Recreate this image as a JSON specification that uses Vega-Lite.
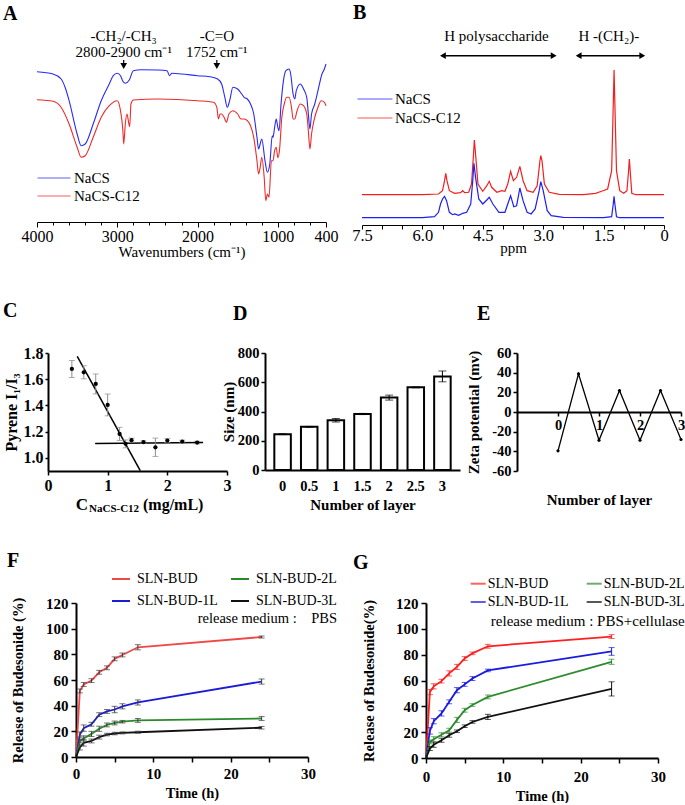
{
"$schema": "https://vega.github.io/schema/vega-lite/v6.json",
"background": "white",
"padding": {"left": 0, "top": 2, "right": 0, "bottom": 0},
"spacing": 0,
"resolve": {"scale": {"color": "independent", "shape": "independent"}, "legend": {"color": "independent", "shape": "independent"}},
"datasets": {
"ftir": [
{"sample":"NaCS","wn":4000,"t":150.3},{"sample":"NaCS","wn":3800,"t":148},{"sample":"NaCS","wn":3700,"t":143},{"sample":"NaCS","wn":3650,"t":134.7},{"sample":"NaCS","wn":3600,"t":121.3},{"sample":"NaCS","wn":3500,"t":88},{"sample":"NaCS","wn":3450,"t":76.3},{"sample":"NaCS","wn":3400,"t":78},{"sample":"NaCS","wn":3300,"t":98},{"sample":"NaCS","wn":3200,"t":121.3},{"sample":"NaCS","wn":3100,"t":138},{"sample":"NaCS","wn":3050,"t":146.3},{"sample":"NaCS","wn":3000,"t":148.7},{"sample":"NaCS","wn":2960,"t":146.3},{"sample":"NaCS","wn":2930,"t":140.7},{"sample":"NaCS","wn":2900,"t":138.7},{"sample":"NaCS","wn":2850,"t":142},{"sample":"NaCS","wn":2800,"t":151.3},{"sample":"NaCS","wn":2700,"t":152.3},{"sample":"NaCS","wn":2500,"t":152},{"sample":"NaCS","wn":2380,"t":151.3},{"sample":"NaCS","wn":2350,"t":146.3},{"sample":"NaCS","wn":2320,"t":148.7},{"sample":"NaCS","wn":2200,"t":148},{"sample":"NaCS","wn":2000,"t":146.3},{"sample":"NaCS","wn":1850,"t":145.3},{"sample":"NaCS","wn":1750,"t":143},{"sample":"NaCS","wn":1700,"t":138},{"sample":"NaCS","wn":1660,"t":124.7},{"sample":"NaCS","wn":1630,"t":114.7},{"sample":"NaCS","wn":1600,"t":121.3},{"sample":"NaCS","wn":1560,"t":134.7},{"sample":"NaCS","wn":1500,"t":133},{"sample":"NaCS","wn":1450,"t":128},{"sample":"NaCS","wn":1420,"t":124.7},{"sample":"NaCS","wn":1380,"t":123},{"sample":"NaCS","wn":1340,"t":118},{"sample":"NaCS","wn":1300,"t":108},{"sample":"NaCS","wn":1260,"t":84.7},{"sample":"NaCS","wn":1240,"t":73},{"sample":"NaCS","wn":1220,"t":78},{"sample":"NaCS","wn":1200,"t":83},{"sample":"NaCS","wn":1160,"t":61.3},{"sample":"NaCS","wn":1130,"t":49.7},{"sample":"NaCS","wn":1100,"t":58},{"sample":"NaCS","wn":1070,"t":86.3},{"sample":"NaCS","wn":1060,"t":84.7},{"sample":"NaCS","wn":1040,"t":94.7},{"sample":"NaCS","wn":1020,"t":103},{"sample":"NaCS","wn":1000,"t":94.7},{"sample":"NaCS","wn":985,"t":91.3},{"sample":"NaCS","wn":960,"t":118},{"sample":"NaCS","wn":930,"t":141.3},{"sample":"NaCS","wn":900,"t":151.3},{"sample":"NaCS","wn":860,"t":153},{"sample":"NaCS","wn":840,"t":148},{"sample":"NaCS","wn":810,"t":128},{"sample":"NaCS","wn":790,"t":123},{"sample":"NaCS","wn":770,"t":131.3},{"sample":"NaCS","wn":720,"t":138},{"sample":"NaCS","wn":680,"t":133},{"sample":"NaCS","wn":640,"t":124.7},{"sample":"NaCS","wn":620,"t":108},{"sample":"NaCS","wn":600,"t":93},{"sample":"NaCS","wn":580,"t":108},{"sample":"NaCS","wn":540,"t":118},{"sample":"NaCS","wn":500,"t":131.3},{"sample":"NaCS","wn":450,"t":148},{"sample":"NaCS","wn":420,"t":153},{"sample":"NaCS","wn":400,"t":158},
{"sample":"NaCS-C12","wn":4000,"t":122.3},{"sample":"NaCS-C12","wn":3800,"t":120.7},{"sample":"NaCS-C12","wn":3700,"t":114.7},{"sample":"NaCS-C12","wn":3600,"t":98},{"sample":"NaCS-C12","wn":3500,"t":74.7},{"sample":"NaCS-C12","wn":3450,"t":64.7},{"sample":"NaCS-C12","wn":3400,"t":66.3},{"sample":"NaCS-C12","wn":3300,"t":84.7},{"sample":"NaCS-C12","wn":3200,"t":104.7},{"sample":"NaCS-C12","wn":3100,"t":116.3},{"sample":"NaCS-C12","wn":3000,"t":121.3},{"sample":"NaCS-C12","wn":2960,"t":111.3},{"sample":"NaCS-C12","wn":2930,"t":91.3},{"sample":"NaCS-C12","wn":2920,"t":78},{"sample":"NaCS-C12","wn":2900,"t":98},{"sample":"NaCS-C12","wn":2880,"t":108},{"sample":"NaCS-C12","wn":2855,"t":98},{"sample":"NaCS-C12","wn":2845,"t":95.3},{"sample":"NaCS-C12","wn":2830,"t":118},{"sample":"NaCS-C12","wn":2800,"t":122},{"sample":"NaCS-C12","wn":2500,"t":123},{"sample":"NaCS-C12","wn":2000,"t":121.3},{"sample":"NaCS-C12","wn":1800,"t":119.7},{"sample":"NaCS-C12","wn":1760,"t":114.7},{"sample":"NaCS-C12","wn":1740,"t":103},{"sample":"NaCS-C12","wn":1720,"t":108},{"sample":"NaCS-C12","wn":1700,"t":108},{"sample":"NaCS-C12","wn":1670,"t":104.7},{"sample":"NaCS-C12","wn":1640,"t":99.7},{"sample":"NaCS-C12","wn":1610,"t":108},{"sample":"NaCS-C12","wn":1560,"t":111.3},{"sample":"NaCS-C12","wn":1500,"t":108},{"sample":"NaCS-C12","wn":1460,"t":103},{"sample":"NaCS-C12","wn":1420,"t":103},{"sample":"NaCS-C12","wn":1380,"t":101.3},{"sample":"NaCS-C12","wn":1340,"t":96.3},{"sample":"NaCS-C12","wn":1300,"t":84.7},{"sample":"NaCS-C12","wn":1260,"t":61.3},{"sample":"NaCS-C12","wn":1240,"t":48},{"sample":"NaCS-C12","wn":1220,"t":54.7},{"sample":"NaCS-C12","wn":1200,"t":64.7},{"sample":"NaCS-C12","wn":1170,"t":44.7},{"sample":"NaCS-C12","wn":1150,"t":21.3},{"sample":"NaCS-C12","wn":1130,"t":28},{"sample":"NaCS-C12","wn":1110,"t":24.7},{"sample":"NaCS-C12","wn":1080,"t":61.3},{"sample":"NaCS-C12","wn":1060,"t":61.3},{"sample":"NaCS-C12","wn":1040,"t":71.3},{"sample":"NaCS-C12","wn":1020,"t":74.7},{"sample":"NaCS-C12","wn":1000,"t":64.3},{"sample":"NaCS-C12","wn":980,"t":71.3},{"sample":"NaCS-C12","wn":950,"t":104.7},{"sample":"NaCS-C12","wn":920,"t":118},{"sample":"NaCS-C12","wn":890,"t":124.7},{"sample":"NaCS-C12","wn":860,"t":124.7},{"sample":"NaCS-C12","wn":830,"t":114.7},{"sample":"NaCS-C12","wn":810,"t":103},{"sample":"NaCS-C12","wn":790,"t":103},{"sample":"NaCS-C12","wn":760,"t":111.3},{"sample":"NaCS-C12","wn":720,"t":118},{"sample":"NaCS-C12","wn":680,"t":116.3},{"sample":"NaCS-C12","wn":640,"t":108},{"sample":"NaCS-C12","wn":620,"t":91.3},{"sample":"NaCS-C12","wn":600,"t":73},{"sample":"NaCS-C12","wn":580,"t":88},{"sample":"NaCS-C12","wn":550,"t":101.3},{"sample":"NaCS-C12","wn":500,"t":114.7},{"sample":"NaCS-C12","wn":460,"t":121.3},{"sample":"NaCS-C12","wn":420,"t":119.7},{"sample":"NaCS-C12","wn":400,"t":116.3}
],
"ftirAnno": [
{"wn": 2920, "label": ["-CH₂/-CH₃", "2800-2900 cm⁻¹"]},
{"wn": 1760, "label": ["-C=O", "1752 cm⁻¹"]}
],
"nmr": [
{"sample":"NaCS-C12","ppm":7.5,"i":30.3},{"sample":"NaCS-C12","ppm":6.0,"i":30.3},{"sample":"NaCS-C12","ppm":5.6,"i":31},{"sample":"NaCS-C12","ppm":5.5,"i":34.3},{"sample":"NaCS-C12","ppm":5.45,"i":44.3},{"sample":"NaCS-C12","ppm":5.42,"i":51.7},{"sample":"NaCS-C12","ppm":5.39,"i":44.3},{"sample":"NaCS-C12","ppm":5.33,"i":34.3},{"sample":"NaCS-C12","ppm":5.2,"i":31.7},{"sample":"NaCS-C12","ppm":5.05,"i":32.3},{"sample":"NaCS-C12","ppm":5.0,"i":34.3},{"sample":"NaCS-C12","ppm":4.95,"i":32.3},{"sample":"NaCS-C12","ppm":4.85,"i":32.7},{"sample":"NaCS-C12","ppm":4.78,"i":41},{"sample":"NaCS-C12","ppm":4.73,"i":71},{"sample":"NaCS-C12","ppm":4.71,"i":85},{"sample":"NaCS-C12","ppm":4.68,"i":71},{"sample":"NaCS-C12","ppm":4.62,"i":41},{"sample":"NaCS-C12","ppm":4.5,"i":33.7},{"sample":"NaCS-C12","ppm":4.4,"i":39.3},{"sample":"NaCS-C12","ppm":4.34,"i":43.7},{"sample":"NaCS-C12","ppm":4.28,"i":37.7},{"sample":"NaCS-C12","ppm":4.15,"i":32.7},{"sample":"NaCS-C12","ppm":4.03,"i":34.3},{"sample":"NaCS-C12","ppm":3.95,"i":33.7},{"sample":"NaCS-C12","ppm":3.88,"i":41},{"sample":"NaCS-C12","ppm":3.81,"i":53.7},{"sample":"NaCS-C12","ppm":3.74,"i":44.3},{"sample":"NaCS-C12","ppm":3.66,"i":47.7},{"sample":"NaCS-C12","ppm":3.58,"i":58.7},{"sample":"NaCS-C12","ppm":3.5,"i":44.3},{"sample":"NaCS-C12","ppm":3.4,"i":34.3},{"sample":"NaCS-C12","ppm":3.25,"i":32.7},{"sample":"NaCS-C12","ppm":3.15,"i":39.3},{"sample":"NaCS-C12","ppm":3.08,"i":64.3},{"sample":"NaCS-C12","ppm":3.06,"i":69.3},{"sample":"NaCS-C12","ppm":3.03,"i":64.3},{"sample":"NaCS-C12","ppm":2.97,"i":41},{"sample":"NaCS-C12","ppm":2.85,"i":32.7},{"sample":"NaCS-C12","ppm":2.6,"i":30.7},{"sample":"NaCS-C12","ppm":2.0,"i":30.3},{"sample":"NaCS-C12","ppm":1.7,"i":31.7},{"sample":"NaCS-C12","ppm":1.55,"i":33.7},{"sample":"NaCS-C12","ppm":1.4,"i":36},{"sample":"NaCS-C12","ppm":1.3,"i":54.3},{"sample":"NaCS-C12","ppm":1.26,"i":121},{"sample":"NaCS-C12","ppm":1.24,"i":155},{"sample":"NaCS-C12","ppm":1.22,"i":121},{"sample":"NaCS-C12","ppm":1.18,"i":54.3},{"sample":"NaCS-C12","ppm":1.1,"i":34.3},{"sample":"NaCS-C12","ppm":1.0,"i":31.7},{"sample":"NaCS-C12","ppm":0.92,"i":34.3},{"sample":"NaCS-C12","ppm":0.88,"i":54.3},{"sample":"NaCS-C12","ppm":0.86,"i":66},{"sample":"NaCS-C12","ppm":0.84,"i":54.3},{"sample":"NaCS-C12","ppm":0.8,"i":31.7},{"sample":"NaCS-C12","ppm":0.7,"i":30.3},{"sample":"NaCS-C12","ppm":0,"i":30.3},
{"sample":"NaCS","ppm":7.5,"i":7.3},{"sample":"NaCS","ppm":6.0,"i":7.3},{"sample":"NaCS","ppm":5.7,"i":8.3},{"sample":"NaCS","ppm":5.6,"i":12.7},{"sample":"NaCS","ppm":5.55,"i":21},{"sample":"NaCS","ppm":5.5,"i":26},{"sample":"NaCS","ppm":5.45,"i":28.7},{"sample":"NaCS","ppm":5.4,"i":24.3},{"sample":"NaCS","ppm":5.33,"i":12.7},{"sample":"NaCS","ppm":5.25,"i":10.3},{"sample":"NaCS","ppm":5.2,"i":11},{"sample":"NaCS","ppm":5.1,"i":9.7},{"sample":"NaCS","ppm":5.0,"i":11.7},{"sample":"NaCS","ppm":4.9,"i":12.7},{"sample":"NaCS","ppm":4.8,"i":21},{"sample":"NaCS","ppm":4.75,"i":44.3},{"sample":"NaCS","ppm":4.72,"i":61.7},{"sample":"NaCS","ppm":4.68,"i":47.7},{"sample":"NaCS","ppm":4.6,"i":26},{"sample":"NaCS","ppm":4.5,"i":21},{"sample":"NaCS","ppm":4.4,"i":25},{"sample":"NaCS","ppm":4.34,"i":27.7},{"sample":"NaCS","ppm":4.25,"i":21},{"sample":"NaCS","ppm":4.1,"i":12.7},{"sample":"NaCS","ppm":3.95,"i":12.7},{"sample":"NaCS","ppm":3.88,"i":21},{"sample":"NaCS","ppm":3.81,"i":29.3},{"sample":"NaCS","ppm":3.73,"i":18.3},{"sample":"NaCS","ppm":3.66,"i":19.3},{"sample":"NaCS","ppm":3.58,"i":37},{"sample":"NaCS","ppm":3.5,"i":24.3},{"sample":"NaCS","ppm":3.4,"i":12.7},{"sample":"NaCS","ppm":3.3,"i":11},{"sample":"NaCS","ppm":3.2,"i":16},{"sample":"NaCS","ppm":3.1,"i":34.3},{"sample":"NaCS","ppm":3.06,"i":43.3},{"sample":"NaCS","ppm":3.0,"i":34.3},{"sample":"NaCS","ppm":2.9,"i":14.3},{"sample":"NaCS","ppm":2.8,"i":9.3},{"sample":"NaCS","ppm":2.5,"i":7.7},{"sample":"NaCS","ppm":1.5,"i":7.3},{"sample":"NaCS","ppm":1.3,"i":8.3},{"sample":"NaCS","ppm":1.26,"i":21},{"sample":"NaCS","ppm":1.24,"i":28.7},{"sample":"NaCS","ppm":1.22,"i":21},{"sample":"NaCS","ppm":1.18,"i":8.3},{"sample":"NaCS","ppm":1.1,"i":7.3},{"sample":"NaCS","ppm":0,"i":7.3}
],
"nmrArrows": [
{"from": 5.49, "to": 2.74, "mid": 4.16, "label": "H polysaccharide"},
{"from": 2.12, "to": 0.54, "mid": 1.37, "label": "H -(CH₂)-"}
],
"cmc": [
{"c":0.4,"r":1.678,"e":0.065},{"c":0.6,"r":1.653,"e":0.05},{"c":0.8,"r":1.564,"e":0.076},{"c":1.0,"r":1.404,"e":0.083},{"c":1.2,"r":1.183,"e":0.05},{"c":1.3,"r":1.107,"e":0.03},{"c":1.4,"r":1.135,"e":0.015},{"c":1.6,"r":1.12,"e":0.01},{"c":1.8,"r":1.081,"e":0.07},{"c":2.0,"r":1.132,"e":0.015},{"c":2.25,"r":1.125,"e":0.01},{"c":2.5,"r":1.117,"e":0.01}
],
"cmcFit": [
{"fit":"below CMC","c":0.49,"r":1.775},{"fit":"below CMC","c":1.546,"r":0.903},
{"fit":"above CMC","c":0.79,"r":1.11},{"fit":"above CMC","c":2.6,"r":1.117}
],
"sizes": [
{"layer":"0","size":245,"sd":3},{"layer":"0.5","size":295,"sd":3},{"layer":"1","size":340,"sd":12},{"layer":"1.5","size":383,"sd":4},{"layer":"2","size":495,"sd":17},{"layer":"2.5","size":565,"sd":3},{"layer":"3","size":640,"sd":37}
],
"zeta": [
{"n":0,"z":-39.5},{"n":0.5,"z":38.8},{"n":1,"z":-28.7},{"n":1.5,"z":21.9},{"n":2,"z":-28.7},{"n":2.5,"z":21.9},{"n":3,"z":-28}
],
"relPBS": [
{"s":"SLN-BUD","t":0,"r":0,"e":0},{"s":"SLN-BUD","t":0.5,"r":51.5,"e":1.5},{"s":"SLN-BUD","t":1,"r":56.5,"e":1.5},{"s":"SLN-BUD","t":2,"r":59.5,"e":1.5},{"s":"SLN-BUD","t":3,"r":66,"e":1.5},{"s":"SLN-BUD","t":4,"r":69.5,"e":1.5},{"s":"SLN-BUD","t":5,"r":76.5,"e":1.5},{"s":"SLN-BUD","t":6,"r":79.5,"e":1.5},{"s":"SLN-BUD","t":8,"r":85.5,"e":2},{"s":"SLN-BUD","t":24,"r":93.5,"e":0.8},
{"s":"SLN-BUD-1L","t":0,"r":0,"e":0},{"s":"SLN-BUD-1L","t":0.5,"r":17.5,"e":2},{"s":"SLN-BUD-1L","t":1,"r":22.5,"e":2.5},{"s":"SLN-BUD-1L","t":2,"r":25.5,"e":1.5},{"s":"SLN-BUD-1L","t":3,"r":33,"e":1.5},{"s":"SLN-BUD-1L","t":4,"r":35.5,"e":1.5},{"s":"SLN-BUD-1L","t":5,"r":37,"e":2.5},{"s":"SLN-BUD-1L","t":6,"r":39.5,"e":2},{"s":"SLN-BUD-1L","t":8,"r":42.5,"e":2},{"s":"SLN-BUD-1L","t":24,"r":58.8,"e":2},
{"s":"SLN-BUD-2L","t":0,"r":0,"e":0},{"s":"SLN-BUD-2L","t":0.5,"r":12.5,"e":1.5},{"s":"SLN-BUD-2L","t":1,"r":14.5,"e":2},{"s":"SLN-BUD-2L","t":2,"r":18,"e":2},{"s":"SLN-BUD-2L","t":3,"r":22,"e":2},{"s":"SLN-BUD-2L","t":4,"r":25,"e":1.5},{"s":"SLN-BUD-2L","t":5,"r":26.5,"e":1.5},{"s":"SLN-BUD-2L","t":6,"r":27.5,"e":1},{"s":"SLN-BUD-2L","t":8,"r":28.5,"e":1.5},{"s":"SLN-BUD-2L","t":24,"r":30,"e":1.5},
{"s":"SLN-BUD-3L","t":0,"r":0,"e":0},{"s":"SLN-BUD-3L","t":0.5,"r":7.5,"e":2},{"s":"SLN-BUD-3L","t":1,"r":11,"e":2.5},{"s":"SLN-BUD-3L","t":2,"r":12.5,"e":1.5},{"s":"SLN-BUD-3L","t":3,"r":15.5,"e":1.5},{"s":"SLN-BUD-3L","t":4,"r":17.5,"e":1},{"s":"SLN-BUD-3L","t":5,"r":18.3,"e":1},{"s":"SLN-BUD-3L","t":6,"r":18.8,"e":0.8},{"s":"SLN-BUD-3L","t":8,"r":19.3,"e":0.8},{"s":"SLN-BUD-3L","t":24,"r":22.8,"e":1}
],
"relCell": [
{"s":"SLN-BUD","t":0,"r":0,"e":0},{"s":"SLN-BUD","t":0.5,"r":51,"e":2},{"s":"SLN-BUD","t":1,"r":55.5,"e":2},{"s":"SLN-BUD","t":2,"r":59.5,"e":1.5},{"s":"SLN-BUD","t":3,"r":65.5,"e":2},{"s":"SLN-BUD","t":4,"r":70.5,"e":2},{"s":"SLN-BUD","t":5,"r":77,"e":1.5},{"s":"SLN-BUD","t":6,"r":81,"e":1},{"s":"SLN-BUD","t":8,"r":86.5,"e":1.5},{"s":"SLN-BUD","t":24,"r":94,"e":1.5},
{"s":"SLN-BUD-1L","t":0,"r":0,"e":0},{"s":"SLN-BUD-1L","t":0.5,"r":21,"e":2.5},{"s":"SLN-BUD-1L","t":1,"r":28.5,"e":2},{"s":"SLN-BUD-1L","t":2,"r":34.5,"e":2},{"s":"SLN-BUD-1L","t":3,"r":43.5,"e":1.5},{"s":"SLN-BUD-1L","t":4,"r":52.5,"e":2},{"s":"SLN-BUD-1L","t":5,"r":57,"e":1.5},{"s":"SLN-BUD-1L","t":6,"r":61.5,"e":1.5},{"s":"SLN-BUD-1L","t":8,"r":67.8,"e":1},{"s":"SLN-BUD-1L","t":24,"r":82.5,"e":3},
{"s":"SLN-BUD-2L","t":0,"r":0,"e":0},{"s":"SLN-BUD-2L","t":0.5,"r":12.5,"e":1.5},{"s":"SLN-BUD-2L","t":1,"r":14.5,"e":2},{"s":"SLN-BUD-2L","t":2,"r":18,"e":1.5},{"s":"SLN-BUD-2L","t":3,"r":21.5,"e":1.5},{"s":"SLN-BUD-2L","t":4,"r":29.5,"e":2},{"s":"SLN-BUD-2L","t":5,"r":37,"e":1.5},{"s":"SLN-BUD-2L","t":6,"r":41,"e":1},{"s":"SLN-BUD-2L","t":8,"r":47.3,"e":1.5},{"s":"SLN-BUD-2L","t":24,"r":74.5,"e":2},
{"s":"SLN-BUD-3L","t":0,"r":0,"e":0},{"s":"SLN-BUD-3L","t":0.5,"r":7.3,"e":1.5},{"s":"SLN-BUD-3L","t":1,"r":10.3,"e":2},{"s":"SLN-BUD-3L","t":2,"r":13.7,"e":1.5},{"s":"SLN-BUD-3L","t":3,"r":17.6,"e":1.5},{"s":"SLN-BUD-3L","t":4,"r":20.7,"e":1},{"s":"SLN-BUD-3L","t":5,"r":24.6,"e":1},{"s":"SLN-BUD-3L","t":6,"r":27.9,"e":1},{"s":"SLN-BUD-3L","t":8,"r":31.8,"e":2},{"s":"SLN-BUD-3L","t":24,"r":53.5,"e":5.5}
]
},
"vconcat": [
{
 "spacing": 0, "bounds": "flush",
 "resolve": {"scale": {"color": "independent", "shape": "independent"}, "legend": {"color": "independent", "shape": "independent"}},
 "hconcat": [
  {"width": 37, "height": 272, "data": {"values": [{"k": 0}]}, "mark": {"type": "point", "opacity": 0}, "encoding": {}},
  {
   "width": 289, "height": 193,
   "title": {"text": "A", "dx": -34, "dy": -1},
   "layer": [
    {"data": {"name": "ftir"}, "mark": {"type": "line", "strokeWidth": 1.1, "interpolate": "monotone"},
     "encoding": {
      "x": {"field": "wn", "type": "quantitative", "title": "Wavenumbers (cm⁻¹)", "scale": {"domain": [400, 4000], "reverse": true, "nice": false, "zero": false},
            "axis": {"values": [4000,3800,3600,3400,3200,3000,2800,2600,2400,2200,2000,1800,1600,1400,1200,1000,800,600,400], "labelExpr": "datum.value % 1000 === 0 || datum.value === 400 ? datum.value + '' : ''", "tickSize": {"condition": {"test": "datum.value % 1000 === 0 || datum.value === 400", "value": 5}, "value": 3}, "labelFontSize": 16, "titleFontSize": 15, "labelFontWeight": "normal", "titleFontWeight": "normal", "labelPadding": 1, "titlePadding": 0, "domainWidth": 1, "tickWidth": 1, "labelOverlap": false, "labelFlush": false}},
      "y": {"field": "t", "type": "quantitative", "scale": {"domain": [0, 193], "nice": false, "zero": false}, "axis": null},
      "color": {"field": "sample", "type": "nominal", "scale": {"domain": ["NaCS", "NaCS-C12"], "range": ["#2a2af2", "#ee2a2a"]},
       "legend": {"orient": "none", "legendX": 0, "legendY": 141.5, "title": null, "symbolType": "stroke", "symbolSize": 1089, "symbolStrokeWidth": 1, "symbolOpacity": 0.75, "clipHeight": 15, "rowPadding": 2, "labelFontSize": 15, "labelOffset": 3}}}},
    {"data": {"name": "ftirAnno"}, "mark": {"type": "text", "fontSize": 15, "baseline": "alphabetic", "lineHeight": 16},
     "encoding": {
      "x": {"field": "wn", "type": "quantitative", "title": "Wavenumbers (cm⁻¹)", "scale": {"domain": [400, 4000], "reverse": true, "nice": false, "zero": false},
            "axis": {"values": [4000,3800,3600,3400,3200,3000,2800,2600,2400,2200,2000,1800,1600,1400,1200,1000,800,600,400], "labelExpr": "datum.value % 1000 === 0 || datum.value === 400 ? datum.value + '' : ''", "tickSize": {"condition": {"test": "datum.value % 1000 === 0 || datum.value === 400", "value": 5}, "value": 3}, "labelFontSize": 16, "titleFontSize": 15, "labelFontWeight": "normal", "titleFontWeight": "normal", "labelPadding": 1, "titlePadding": 0, "domainWidth": 1, "tickWidth": 1, "labelOverlap": false, "labelFlush": false}},
      "y": {"datum": 181, "type": "quantitative", "axis": null}, "text": {"field": "label"}}},
    {"data": {"name": "ftirAnno"}, "mark": {"type": "rule", "color": "black", "strokeWidth": 1.2},
     "encoding": {
      "x": {"field": "wn", "type": "quantitative", "title": "Wavenumbers (cm⁻¹)", "scale": {"domain": [400, 4000], "reverse": true, "nice": false, "zero": false},
            "axis": {"values": [4000,3800,3600,3400,3200,3000,2800,2600,2400,2200,2000,1800,1600,1400,1200,1000,800,600,400], "labelExpr": "datum.value % 1000 === 0 || datum.value === 400 ? datum.value + '' : ''", "tickSize": {"condition": {"test": "datum.value % 1000 === 0 || datum.value === 400", "value": 5}, "value": 3}, "labelFontSize": 16, "titleFontSize": 15, "labelFontWeight": "normal", "titleFontWeight": "normal", "labelPadding": 1, "titlePadding": 0, "domainWidth": 1, "tickWidth": 1, "labelOverlap": false, "labelFlush": false}},
      "y": {"datum": 162, "type": "quantitative", "axis": null}, "y2": {"datum": 157}}},
    {"data": {"name": "ftirAnno"}, "mark": {"type": "point", "shape": "triangle-down", "filled": true, "color": "black", "size": 45, "opacity": 1},
     "encoding": {
      "x": {"field": "wn", "type": "quantitative", "title": "Wavenumbers (cm⁻¹)", "scale": {"domain": [400, 4000], "reverse": true, "nice": false, "zero": false},
            "axis": {"values": [4000,3800,3600,3400,3200,3000,2800,2600,2400,2200,2000,1800,1600,1400,1200,1000,800,600,400], "labelExpr": "datum.value % 1000 === 0 || datum.value === 400 ? datum.value + '' : ''", "tickSize": {"condition": {"test": "datum.value % 1000 === 0 || datum.value === 400", "value": 5}, "value": 3}, "labelFontSize": 16, "titleFontSize": 15, "labelFontWeight": "normal", "titleFontWeight": "normal", "labelPadding": 1, "titlePadding": 0, "domainWidth": 1, "tickWidth": 1, "labelOverlap": false, "labelFlush": false}},
      "y": {"datum": 156, "type": "quantitative", "axis": null}}}
   ]
  },
  {"width": 36, "height": 1, "data": {"values": [{"k": 0}]}, "mark": {"type": "point", "opacity": 0}, "encoding": {}},
  {
   "width": 302, "height": 196,
   "title": {"text": "B", "dx": -9, "dy": -2},
   "layer": [
    {"data": {"name": "nmr"}, "mark": {"type": "line", "strokeWidth": 1.2},
     "encoding": {
      "x": {"field": "ppm", "type": "quantitative", "title": "ppm", "scale": {"domain": [0, 7.5], "reverse": true, "nice": false, "zero": false},
            "axis": {"values": [0,0.5,1,1.5,2,2.5,3,3.5,4,4.5,5,5.5,6,6.5,7,7.5], "labelExpr": "datum.value % 1.5 === 0 ? (datum.value === 0 ? '0' : format(datum.value, '.1f')) : ''", "tickSize": 4, "labelFontSize": 16.5, "titleFontSize": 15, "labelFontWeight": "normal", "titleFontWeight": "normal", "labelPadding": -2, "titlePadding": -3, "domainWidth": 1, "tickWidth": 1, "labelOverlap": false, "labelFlush": false}},
      "y": {"field": "i", "type": "quantitative", "scale": {"domain": [0, 196], "nice": false, "zero": false}, "axis": null},
      "color": {"field": "sample", "type": "nominal", "scale": {"domain": ["NaCS", "NaCS-C12"], "range": ["#1f1ff0", "#f02020"]},
       "legend": {"orient": "none", "legendX": -5, "legendY": 62.5, "title": null, "symbolType": "stroke", "symbolSize": 1225, "symbolStrokeWidth": 1, "symbolOpacity": 0.75, "clipHeight": 15, "rowPadding": 3, "labelFontSize": 15, "labelOffset": 2}}}},
    {"data": {"name": "nmrArrows"}, "mark": {"type": "rule", "color": "black", "strokeWidth": 1.5},
     "encoding": {
      "x": {"field": "from", "type": "quantitative", "title": "ppm", "scale": {"domain": [0, 7.5], "reverse": true, "nice": false, "zero": false},
            "axis": {"values": [0,0.5,1,1.5,2,2.5,3,3.5,4,4.5,5,5.5,6,6.5,7,7.5], "labelExpr": "datum.value % 1.5 === 0 ? (datum.value === 0 ? '0' : format(datum.value, '.1f')) : ''", "tickSize": 4, "labelFontSize": 16.5, "titleFontSize": 15, "labelFontWeight": "normal", "titleFontWeight": "normal", "labelPadding": -2, "titlePadding": -3, "domainWidth": 1, "tickWidth": 1, "labelOverlap": false, "labelFlush": false}},
      "x2": {"field": "to"}, "y": {"datum": 169.3, "type": "quantitative", "axis": null}}},
    {"data": {"name": "nmrArrows"}, "transform": [{"fold": ["from", "to"], "as": ["end", "pos"]}],
     "mark": {"type": "point", "filled": true, "color": "black", "size": 45, "opacity": 1},
     "encoding": {
      "x": {"field": "pos", "type": "quantitative", "title": "ppm", "scale": {"domain": [0, 7.5], "reverse": true, "nice": false, "zero": false},
            "axis": {"values": [0,0.5,1,1.5,2,2.5,3,3.5,4,4.5,5,5.5,6,6.5,7,7.5], "labelExpr": "datum.value % 1.5 === 0 ? (datum.value === 0 ? '0' : format(datum.value, '.1f')) : ''", "tickSize": 4, "labelFontSize": 16.5, "titleFontSize": 15, "labelFontWeight": "normal", "titleFontWeight": "normal", "labelPadding": -2, "titlePadding": -3, "domainWidth": 1, "tickWidth": 1, "labelOverlap": false, "labelFlush": false}},
      "y": {"datum": 169.3, "type": "quantitative", "axis": null},
      "shape": {"field": "end", "type": "nominal", "scale": {"domain": ["from", "to"], "range": ["triangle-left", "triangle-right"]}, "legend": null}}},
    {"data": {"name": "nmrArrows"}, "mark": {"type": "text", "fontSize": 15, "baseline": "middle"},
     "encoding": {
      "x": {"field": "mid", "type": "quantitative", "title": "ppm", "scale": {"domain": [0, 7.5], "reverse": true, "nice": false, "zero": false},
            "axis": {"values": [0,0.5,1,1.5,2,2.5,3,3.5,4,4.5,5,5.5,6,6.5,7,7.5], "labelExpr": "datum.value % 1.5 === 0 ? (datum.value === 0 ? '0' : format(datum.value, '.1f')) : ''", "tickSize": 4, "labelFontSize": 16.5, "titleFontSize": 15, "labelFontWeight": "normal", "titleFontWeight": "normal", "labelPadding": -2, "titlePadding": -3, "domainWidth": 1, "tickWidth": 1, "labelOverlap": false, "labelFlush": false}},
      "y": {"datum": 189, "type": "quantitative", "axis": null}, "text": {"field": "label"}}}
   ]
  }
 ]
},
{
 "spacing": 0, "bounds": "flush",
 "resolve": {"scale": {"color": "independent", "shape": "independent"}, "legend": {"color": "independent", "shape": "independent"}},
 "hconcat": [
  {"width": 48, "height": 197, "data": {"values": [{"k": 0}]}, "mark": {"type": "point", "opacity": 0}, "encoding": {}},
  {
   "width": 179, "height": 118,
   "title": {"text": "C", "dx": -45, "dy": -20},
   "layer": [
    {"data": {"name": "cmcFit"}, "mark": {"type": "line", "color": "black", "strokeWidth": 1.5},
     "encoding": {
      "x": {"field": "c", "type": "quantitative", "title": null, "scale": {"domain": [0, 3], "nice": false, "zero": false}, "axis": {"title": null, "values": [0,1,2,3], "format": "d", "tickSize": 4, "labelPadding": 2, "labelFontSize": 16, "labelOverlap": false, "labelFlush": false}},
      "y": {"field": "r", "type": "quantitative", "title": "Pyrene I₁/I₃", "scale": {"domain": [0.9, 1.8], "nice": false, "zero": false}, "axis": {"title": "Pyrene I₁/I₃", "values": [1.0,1.2,1.4,1.6,1.8], "format": ".1f", "tickSize": 3, "labelPadding": 2, "titlePadding": 4, "labelFontSize": 16, "titleFontSize": 16, "labelOverlap": false}},
      "detail": {"field": "fit"}}},
    {"data": {"name": "cmc"}, "mark": {"type": "errorbar", "ticks": {"size": 6}, "color": "#8c8c8c", "thickness": 1},
     "encoding": {
      "x": {"field": "c", "type": "quantitative", "title": null, "scale": {"domain": [0, 3], "nice": false, "zero": false}, "axis": {"title": null, "values": [0,1,2,3], "format": "d", "tickSize": 4, "labelPadding": 2, "labelFontSize": 16, "labelOverlap": false, "labelFlush": false}},
      "y": {"field": "r", "type": "quantitative", "title": "Pyrene I₁/I₃", "scale": {"domain": [0.9, 1.8], "nice": false, "zero": false}, "axis": {"title": "Pyrene I₁/I₃", "values": [1.0,1.2,1.4,1.6,1.8], "format": ".1f", "tickSize": 3, "labelPadding": 2, "titlePadding": 4, "labelFontSize": 16, "titleFontSize": 16, "labelOverlap": false}},
      "yError": {"field": "e"}}},
    {"data": {"name": "cmc"}, "mark": {"type": "point", "filled": true, "color": "black", "size": 18, "opacity": 1},
     "encoding": {
      "x": {"field": "c", "type": "quantitative", "title": null, "scale": {"domain": [0, 3], "nice": false, "zero": false}, "axis": {"title": null, "values": [0,1,2,3], "format": "d", "tickSize": 4, "labelPadding": 2, "labelFontSize": 16, "labelOverlap": false, "labelFlush": false}},
      "y": {"field": "r", "type": "quantitative", "title": "Pyrene I₁/I₃", "scale": {"domain": [0.9, 1.8], "nice": false, "zero": false}, "axis": {"title": "Pyrene I₁/I₃", "values": [1.0,1.2,1.4,1.6,1.8], "format": ".1f", "tickSize": 3, "labelPadding": 2, "titlePadding": 4, "labelFontSize": 16, "titleFontSize": 16, "labelOverlap": false}}}},
    {"data": {"values": [{"k": 0}]}, "mark": {"type": "text", "align": "right", "baseline": "middle", "fontSize": 17, "fontWeight": "bold"},
     "encoding": {
      "x": {"datum": 0.67, "type": "quantitative", "title": null, "scale": {"domain": [0, 3], "nice": false, "zero": false}, "axis": {"title": null, "values": [0,1,2,3], "format": "d", "tickSize": 4, "labelPadding": 2, "labelFontSize": 16, "labelOverlap": false, "labelFlush": false}},
      "y": {"datum": 0.638, "type": "quantitative", "title": "Pyrene I₁/I₃", "scale": {"domain": [0.9, 1.8], "nice": false, "zero": false}, "axis": {"title": "Pyrene I₁/I₃", "values": [1.0,1.2,1.4,1.6,1.8], "format": ".1f", "tickSize": 3, "labelPadding": 2, "titlePadding": 4, "labelFontSize": 16, "titleFontSize": 16, "labelOverlap": false}},
      "text": {"value": "C"}}},
    {"data": {"values": [{"k": 0}]}, "mark": {"type": "text", "align": "left", "baseline": "middle", "fontSize": 11, "fontWeight": "bold"},
     "encoding": {
      "x": {"datum": 0.687, "type": "quantitative", "title": null, "scale": {"domain": [0, 3], "nice": false, "zero": false}, "axis": {"title": null, "values": [0,1,2,3], "format": "d", "tickSize": 4, "labelPadding": 2, "labelFontSize": 16, "labelOverlap": false, "labelFlush": false}},
      "y": {"datum": 0.607, "type": "quantitative", "title": "Pyrene I₁/I₃", "scale": {"domain": [0.9, 1.8], "nice": false, "zero": false}, "axis": {"title": "Pyrene I₁/I₃", "values": [1.0,1.2,1.4,1.6,1.8], "format": ".1f", "tickSize": 3, "labelPadding": 2, "titlePadding": 4, "labelFontSize": 16, "titleFontSize": 16, "labelOverlap": false}},
      "text": {"value": "NaCS-C12"}}},
    {"data": {"values": [{"k": 0}]}, "mark": {"type": "text", "align": "left", "baseline": "middle", "fontSize": 16, "fontWeight": "bold"},
     "encoding": {
      "x": {"datum": 1.592, "type": "quantitative", "title": null, "scale": {"domain": [0, 3], "nice": false, "zero": false}, "axis": {"title": null, "values": [0,1,2,3], "format": "d", "tickSize": 4, "labelPadding": 2, "labelFontSize": 16, "labelOverlap": false, "labelFlush": false}},
      "y": {"datum": 0.638, "type": "quantitative", "title": "Pyrene I₁/I₃", "scale": {"domain": [0.9, 1.8], "nice": false, "zero": false}, "axis": {"title": "Pyrene I₁/I₃", "values": [1.0,1.2,1.4,1.6,1.8], "format": ".1f", "tickSize": 3, "labelPadding": 2, "titlePadding": 4, "labelFontSize": 16, "titleFontSize": 16, "labelOverlap": false}},
      "text": {"value": "(mg/mL)"}}}
   ]
  },
  {"width": 38, "height": 1, "data": {"values": [{"k": 0}]}, "mark": {"type": "point", "opacity": 0}, "encoding": {}},
  {
   "width": 195, "height": 117,
   "title": {"text": "D", "dx": -32, "dy": -17},
   "data": {"name": "sizes"},
   "encoding": {
    "x": {"field": "layer", "type": "ordinal", "sort": null, "title": "Number of layer", "scale": {"paddingInner": 0.38, "paddingOuter": 0.35},
          "axis": {"labelAngle": 0, "tickSize": 0, "labelPadding": 9, "titlePadding": 5, "labelFontSize": 14.5, "titleFontSize": 15}},
    "y": {"field": "size", "type": "quantitative", "title": "Size (nm)", "scale": {"domain": [0, 800], "nice": false},
          "axis": {"values": [0,200,400,600,800], "tickSize": 4, "labelPadding": 2, "titlePadding": 1, "labelFontSize": 14.5, "titleFontSize": 15}}
   },
   "layer": [
    {"mark": {"type": "bar", "fill": "white", "stroke": "black", "strokeWidth": 2}},
    {"mark": {"type": "errorbar", "ticks": {"size": 8}, "color": "black", "thickness": 1}, "encoding": {"yError": {"field": "sd"}}}
   ]
  },
  {"width": 57, "height": 1, "data": {"values": [{"k": 0}]}, "mark": {"type": "point", "opacity": 0}, "encoding": {}},
  {
   "width": 164, "height": 118,
   "title": {"text": "E", "dx": -40, "dy": -17},
   "data": {"name": "zeta"},
   "mark": {"type": "line", "color": "black", "strokeWidth": 1.3, "point": {"filled": true, "color": "black", "size": 10}},
   "encoding": {
    "x": {"field": "n", "type": "quantitative", "title": "Number of layer", "scale": {"domain": [-1, 3], "nice": false, "zero": false},
          "axis": {"values": [0,1,2,3], "offset": -59, "tickSize": 4, "labelPadding": 2, "titlePadding": 61, "labelFontSize": 14.5, "titleFontSize": 15}},
    "y": {"field": "z", "type": "quantitative", "title": "Zeta potential (mv)", "scale": {"domain": [-60, 60], "nice": false},
          "axis": {"values": [-60,-40,-20,0,20,40,60], "labelExpr": "datum.value + ''", "tickSize": 4, "labelPadding": 2, "titlePadding": 10, "labelFontSize": 14.5, "titleFontSize": 15}}
   }
  }
 ]
},
{
 "spacing": 0, "bounds": "flush",
 "resolve": {"scale": {"color": "independent", "shape": "independent"}, "legend": {"color": "independent", "shape": "independent"}},
 "hconcat": [
  {"width": 76, "height": 1, "data": {"values": [{"k": 0}]}, "mark": {"type": "point", "opacity": 0}, "encoding": {}},
  {
   "width": 232, "height": 154,
   "title": {"text": "F", "dx": -69, "dy": 3},
   "data": {"name": "relPBS"},
   "encoding": {
    "x": {"field": "t", "type": "quantitative", "title": "Time (h)", "scale": {"domain": [0, 30], "nice": false, "zero": false},
          "axis": {"values": [0,5,10,15,20,25,30], "labelExpr": "datum.value % 10 === 0 ? datum.value + '' : ''", "tickSize": 5, "labelPadding": 4, "titlePadding": 5, "labelFontSize": 15, "titleFontSize": 14.5}},
    "y": {"field": "r", "type": "quantitative", "title": "Release of Budesonide (%)", "scale": {"domain": [0, 120], "nice": false},
          "axis": {"values": [0,20,40,60,80,100,120], "tickSize": 5, "labelPadding": 3, "titlePadding": 20, "labelFontSize": 15, "titleFontSize": 14.5}}
   },
   "layer": [
    {"mark": {"type": "line", "strokeWidth": 1.8},
     "encoding": {"color": {"field": "s", "type": "nominal",
       "scale": {"domain": ["SLN-BUD", "SLN-BUD-1L", "SLN-BUD-2L", "SLN-BUD-3L"], "range": ["#f04848", "#1c1cd6", "#2a8a2a", "#111111"]},
       "legend": {"orient": "none", "legendX": 35, "legendY": -31.5, "columns": 2, "title": "release medium :\u00a0\u00a0\u00a0 PBS", "titleOrient": "bottom", "titleAnchor": "end", "titleLimit": 400, "titleFontWeight": "normal", "titleFontSize": 14.5, "titlePadding": 3, "labelFontSize": 14, "labelLimit": 200, "symbolType": "stroke", "symbolSize": 324, "symbolStrokeWidth": 2, "clipHeight": 15, "rowPadding": 7, "columnPadding": 12, "labelOffset": 6}}}},
    {"transform": [{"filter": "datum.t > 0"}], "mark": {"type": "errorbar", "ticks": {"size": 6}, "color": "#3a3a3a", "thickness": 1}, "encoding": {"yError": {"field": "e"}, "detail": {"field": "s"}}}
   ]
  },
  {"width": 118, "height": 1, "data": {"values": [{"k": 0}]}, "mark": {"type": "point", "opacity": 0}, "encoding": {}},
  {
   "width": 232, "height": 155,
   "title": {"text": "G", "dx": -73, "dy": 1},
   "data": {"name": "relCell"},
   "encoding": {
    "x": {"field": "t", "type": "quantitative", "title": "Time (h)", "scale": {"domain": [0, 30], "nice": false, "zero": false},
          "axis": {"values": [0,5,10,15,20,25,30], "labelExpr": "datum.value % 10 === 0 ? datum.value + '' : ''", "tickSize": 5, "labelPadding": 6, "titlePadding": 5, "labelFontSize": 15, "titleFontSize": 14.5}},
    "y": {"field": "r", "type": "quantitative", "title": "Release of Budesonide(%)", "scale": {"domain": [0, 120], "nice": false},
          "axis": {"values": [0,20,40,60,80,100,120], "tickSize": 5, "labelPadding": 3, "titlePadding": 19, "labelFontSize": 15, "titleFontSize": 14.5}}
   },
   "layer": [
    {"mark": {"type": "line", "strokeWidth": 1.8},
     "encoding": {"color": {"field": "s", "type": "nominal",
       "scale": {"domain": ["SLN-BUD", "SLN-BUD-1L", "SLN-BUD-2L", "SLN-BUD-3L"], "range": ["#ff1f1f", "#1a1ae0", "#2e8b2e", "#111111"]},
       "legend": {"orient": "none", "legendX": 43.7, "legendY": -26.8, "columns": 2, "title": "release medium : PBS+cellulase", "titleOrient": "bottom", "titleAnchor": "end", "titleLimit": 400, "titleFontWeight": "normal", "titleFontSize": 15, "titlePadding": 5, "labelFontSize": 14, "labelLimit": 200, "symbolType": "stroke", "symbolSize": 225, "symbolStrokeWidth": 2, "clipHeight": 15, "rowPadding": 3.3, "columnPadding": 17, "labelOffset": 1}}}},
    {"transform": [{"filter": "datum.t > 0"}], "mark": {"type": "errorbar", "ticks": {"size": 6}, "thickness": 1}, "encoding": {"yError": {"field": "e"}, "color": {"field": "s", "type": "nominal"}}}
   ]
  }
 ]
}
],
"config": {
 "view": {"stroke": null},
 "font": "Liberation Serif",
 "axis": {"labelFont": "Liberation Serif", "titleFont": "Liberation Serif", "labelColor": "black", "titleColor": "black", "domainColor": "black", "tickColor": "black", "grid": false, "labelFlush": false, "labelOverlap": false, "labelBound": false, "domainWidth": 2, "tickWidth": 1.5, "labelFontWeight": "bold", "titleFontWeight": "bold", "labelFontSize": 15, "titleFontSize": 15},
 "legend": {"labelFont": "Liberation Serif", "titleFont": "Liberation Serif", "labelColor": "black", "titleColor": "black", "padding": 0},
 "title": {"font": "Liberation Serif", "fontSize": 20, "fontWeight": "bold", "color": "black", "anchor": "start", "frame": "group", "offset": 0},
 "text": {"font": "Liberation Serif", "color": "black"}
}
}
